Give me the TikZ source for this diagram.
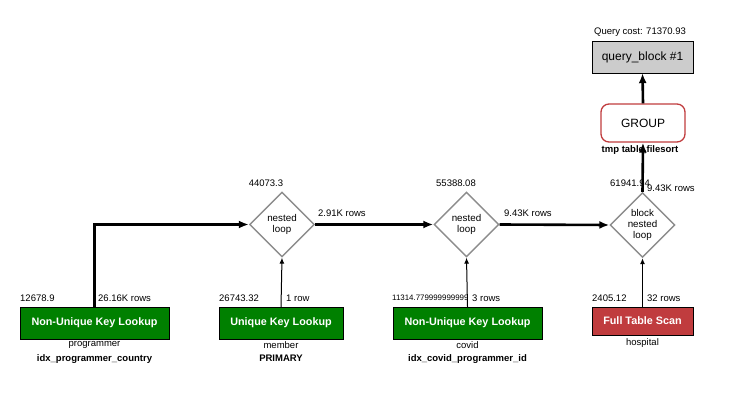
\documentclass[tikz,border=0pt]{standalone}
\usepackage{fontspec}
\setmainfont{Liberation Sans}
\usetikzlibrary{shapes.geometric, arrows.meta}
\definecolor{opgreen}{RGB}{0,128,0}
\definecolor{scanred}{RGB}{192,60,62}
\definecolor{blockgray}{RGB}{204,204,204}
\definecolor{loopgray}{RGB}{140,140,140}

\begin{document}
\begin{tikzpicture}[x=1pt, y=1pt, >=Latex,
  access/.style={draw=black, fill=opgreen, text=white, minimum height=32, inner sep=0,
    font=\bfseries\fontsize{10.8}{12}\selectfont},
  loopnode/.style={diamond, draw=loopgray, line width=1.4, minimum width=65, minimum height=65,
    inner sep=0, align=center, font=\fontsize{9.8}{10.8}\selectfont},
  lbl/.style={inner sep=0, font=\fontsize{9.5}{11}\selectfont},
  bold/.style={inner sep=0, font=\bfseries\fontsize{9.5}{11}\selectfont},
  flow/.style={-{Latex[length=10pt,width=8pt]}, line width=2.6},
  feed/.style={-{Latex[length=6pt,width=5pt]}, line width=1}]
\useasboundingbox (0,0) rectangle (733,418);

% table access
\node[access, minimum width=149] (prog) at (94.5,95) {Non-Unique Key Lookup};
\node[access, minimum width=124] (mem) at (281,95) {Unique Key Lookup};
\node[access, minimum width=149] (cov) at (467.5,95) {Non-Unique Key Lookup};
\node[access, fill=scanred, minimum width=101, minimum height=28] (hosp) at (642.5,97) {Full Table Scan};

% joins
\node[loopnode] (nl1) at (282,193.5) {nested\\loop};
\node[loopnode] (nl2) at (466.5,193.5) {nested\\loop};
\node[loopnode] (bnl) at (642.5,193) {block\\nested\\loop};

% top
\node[draw=scanred, line width=1.3, rounded corners=8, minimum width=84, minimum height=38,
  font=\fontsize{12}{14}\selectfont] (grp) at (643,295) {GROUP};
\node[draw=black, fill=blockgray, minimum width=101, minimum height=32,
  font=\fontsize{12}{14}\selectfont] (qb) at (642.5,361) {query\_block \#1};

% names under the tables
\node[lbl] (progname) at (94.5,73) {programmer};
\node[bold] (progkey) at (94.5,59) {idx\_programmer\_country};
\node[lbl] (memname) at (281,73) {member};
\node[bold] (memkey) at (281,60) {PRIMARY};
\node[lbl] (covname) at (467.5,73) {covid};
\node[bold] (covkey) at (467.5,59) {idx\_covid\_programmer\_id};
\node[lbl] (hospname) at (642.5,75) {hospital};
\node[bold] (grpnote) at (640,268) {tmp table,filesort};
\node[lbl] (qcost) at (640,386) {Query cost: 71370.93};

% costs and rows
\node[lbl, anchor=west] (c1) at (20,120) {12678.9};
\node[lbl, anchor=west] (r1) at (98,120) {26.16K rows};
\node[lbl, anchor=west] (c2) at (219,120) {26743.32};
\node[lbl, anchor=west] (r2) at (286,120) {1 row};
\node[lbl, anchor=west, font=\fontsize{7.9}{10}\selectfont] (c3) at (392,120) {11314.779999999999};
\node[lbl, anchor=west] (r3) at (472,120) {3 rows};
\node[lbl, anchor=west] (c4) at (592,120) {2405.12};
\node[lbl, anchor=west] (r4) at (647,120) {32 rows};
\node[lbl] (c5) at (266,235) {44073.3};
\node[lbl] (c6) at (456,235) {55388.08};
\node[lbl, anchor=west] (c7) at (610,235) {61941.94};
\node[lbl, anchor=west] (r5) at (318,205) {2.91K rows};
\node[lbl, anchor=west] (r6) at (504,205) {9.43K rows};
\node[lbl, anchor=west] (r7) at (647,230) {9.43K rows};

% connectors
\draw[flow] (prog.north) |- (nl1.west);
\draw[flow] (nl1.east) -- (nl2.west);
\draw[flow] (nl2.east) -- (bnl.west);
\draw[flow] (bnl.north) -- (grp.south);
\draw[flow] (grp.north) -- (qb.south);
\draw[feed] (mem.north) -- (nl1.south);
\draw[feed] (cov.north) -- (nl2.south);
\draw[feed] (hosp.north) -- (bnl.south);

\end{tikzpicture}
\end{document}
